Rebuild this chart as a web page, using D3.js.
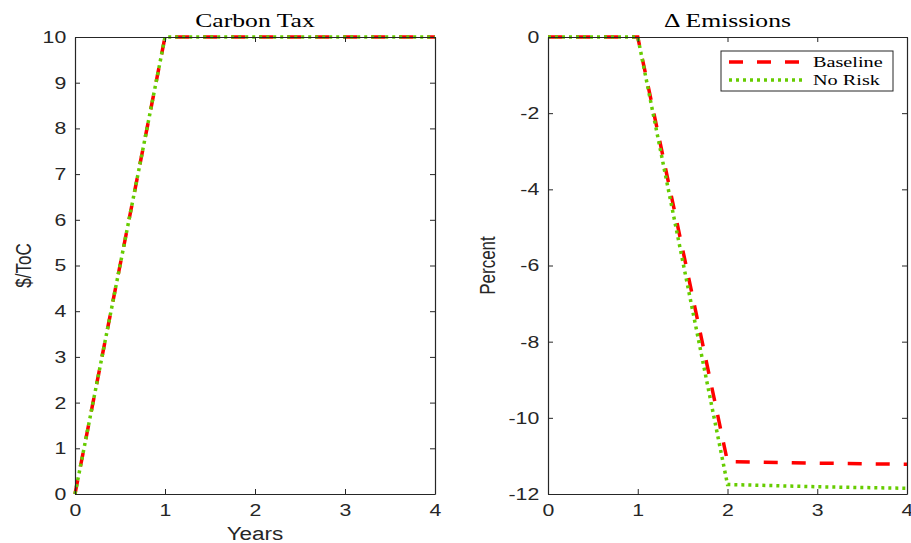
<!DOCTYPE html>
<html>
<head>
<meta charset="utf-8">
<script src="https://cdn.jsdelivr.net/npm/d3@7"></script>
<style>
  body { margin: 0; background: #fff; }
  svg { display: block; }
</style>
</head>
<body>
<div id="chart"></div>
<script>
// données
const years = [0, 1, 2, 3, 4];
const taxBaseline = [0, 10, 10, 10, 10];
const taxNoRisk = [0, 10, 10, 10, 10];
const emisBaseline = [0, 0, -11.15, -11.19, -11.22];
const emisNoRisk = [0, 0, -11.75, -11.81, -11.85];
const taxTicks = [0, 1, 2, 3, 4, 5, 6, 7, 8, 9, 10];
const emisTicks = [0, -2, -4, -6, -8, -10, -12];
const xTicks = [0, 1, 2, 3, 4];
const seriesNames = ["Baseline", "No Risk"];

const width = 911, height = 543;
const axisColor = "#262626";
const red = "#ff0000", green = "#66cc00";
const stretch = 1.25; // la figure d'origine est étirée horizontalement
const serifStretch = 1.35;
const sans = "Liberation Sans, Arial, sans-serif";
const serif = "Liberation Serif, DejaVu Serif, serif";

const svg = d3.select("#chart")
    .append("svg")
    .attr("width", width)
    .attr("height", height);

function drawPanel(opts) {
    const x = d3.scaleLinear().domain([0, 4]).range([opts.left, opts.right]);
    const y = d3.scaleLinear().domain(opts.yDomain).range([opts.bottom, opts.top]);
    const g = svg.append("g");

    // lignes (rouge dessous, vert dessus)
    const line = d3.line().x((d, i) => x(years[i])).y(d => y(d));
    g.append("path")
        .attr("d", line(opts.base))
        .attr("fill", "none")
        .attr("stroke", red)
        .attr("stroke-width", 3.5)
        .attr("stroke-dasharray", "14,14");
    g.append("path")
        .attr("d", line(opts.noRisk))
        .attr("fill", "none")
        .attr("stroke", green)
        .attr("stroke-width", 3.5)
        .attr("stroke-dasharray", "3,4");

    // axes avec ticks vers l'intérieur
    const fmt = d => d3.format("d")(d).replace("−", "-");
    const bottom = g.append("g")
        .attr("transform", `translate(0,${opts.bottom})`)
        .call(d3.axisBottom(x).tickValues(xTicks).tickSizeInner(-5).tickSizeOuter(0).tickPadding(10).tickFormat(fmt));
    const top = g.append("g")
        .attr("transform", `translate(0,${opts.top})`)
        .call(d3.axisTop(x).tickValues(xTicks).tickSizeInner(-5).tickSizeOuter(0).tickFormat(""));
    const left = g.append("g")
        .attr("transform", `translate(${opts.left},0)`)
        .call(d3.axisLeft(y).tickValues(opts.yTicks).tickSizeInner(-5).tickSizeOuter(0).tickPadding(7).tickFormat(fmt));
    const right = g.append("g")
        .attr("transform", `translate(${opts.right},0)`)
        .call(d3.axisRight(y).tickValues(opts.yTicks).tickSizeInner(-5).tickSizeOuter(0).tickFormat(""));

    [bottom, top, left, right].forEach(a => {
        a.select(".domain").attr("stroke", axisColor).attr("stroke-width", 1.2);
        a.selectAll(".tick line").attr("stroke", axisColor).attr("stroke-width", 1);
        a.selectAll("text")
            .attr("fill", axisColor)
            .attr("transform", `scale(${stretch},1)`)
            .style("font-family", sans)
            .style("font-size", "17px");
    });

    // titre
    g.append("text")
        .attr("transform", `translate(${(opts.left + opts.right) / 2},27) scale(${serifStretch},1)`)
        .attr("text-anchor", "middle")
        .style("font-family", serif)
        .style("font-size", "19px")
        .attr("fill", "#000")
        .text(opts.title);

    // libellé y
    g.append("text")
        .attr("transform", `translate(${opts.yLabelX},${(opts.top + opts.bottom) / 2}) scale(${stretch},1) rotate(-90)`)
        .attr("text-anchor", "middle")
        .style("font-family", sans)
        .style("font-size", "17px")
        .attr("fill", axisColor)
        .text(opts.yLabel);

    if (opts.xLabel) {
        g.append("text")
            .attr("transform", `translate(${(opts.left + opts.right) / 2},540) scale(${stretch},1)`)
            .attr("text-anchor", "middle")
            .style("font-family", sans)
            .style("font-size", "18px")
            .attr("fill", axisColor)
            .text(opts.xLabel);
    }
    return g;
}

drawPanel({
    left: 75, right: 435, top: 37, bottom: 494,
    yDomain: [0, 10], yTicks: taxTicks,
    base: taxBaseline, noRisk: taxNoRisk,
    title: "Carbon Tax", yLabel: "$/ToC", yLabelX: 31, xLabel: "Years"
});

drawPanel({
    left: 548, right: 907, top: 37, bottom: 494,
    yDomain: [-12, 0], yTicks: emisTicks,
    base: emisBaseline, noRisk: emisNoRisk,
    title: "Δ Emissions", yLabel: "Percent", yLabelX: 495, xLabel: null
});

// légende
const legend = svg.append("g").attr("transform", "translate(721,51)");
legend.append("rect")
    .attr("width", 172).attr("height", 40)
    .attr("fill", "#fff").attr("stroke", axisColor).attr("stroke-width", 1);
const legendStyles = [
    { color: red, dash: "14,14" },
    { color: green, dash: "3,4" }
];
seriesNames.forEach((name, i) => {
    const yy = 11 + i * 18;
    legend.append("line")
        .attr("x1", 8).attr("x2", 85).attr("y1", yy).attr("y2", yy)
        .attr("stroke", legendStyles[i].color)
        .attr("stroke-width", 3.5)
        .attr("stroke-dasharray", legendStyles[i].dash);
    legend.append("text")
        .attr("transform", `translate(92,${yy + 5}) scale(${serifStretch},1)`)
        .style("font-family", serif)
        .style("font-size", "15px")
        .attr("fill", "#000")
        .text(name);
});
</script>
</body>
</html>
